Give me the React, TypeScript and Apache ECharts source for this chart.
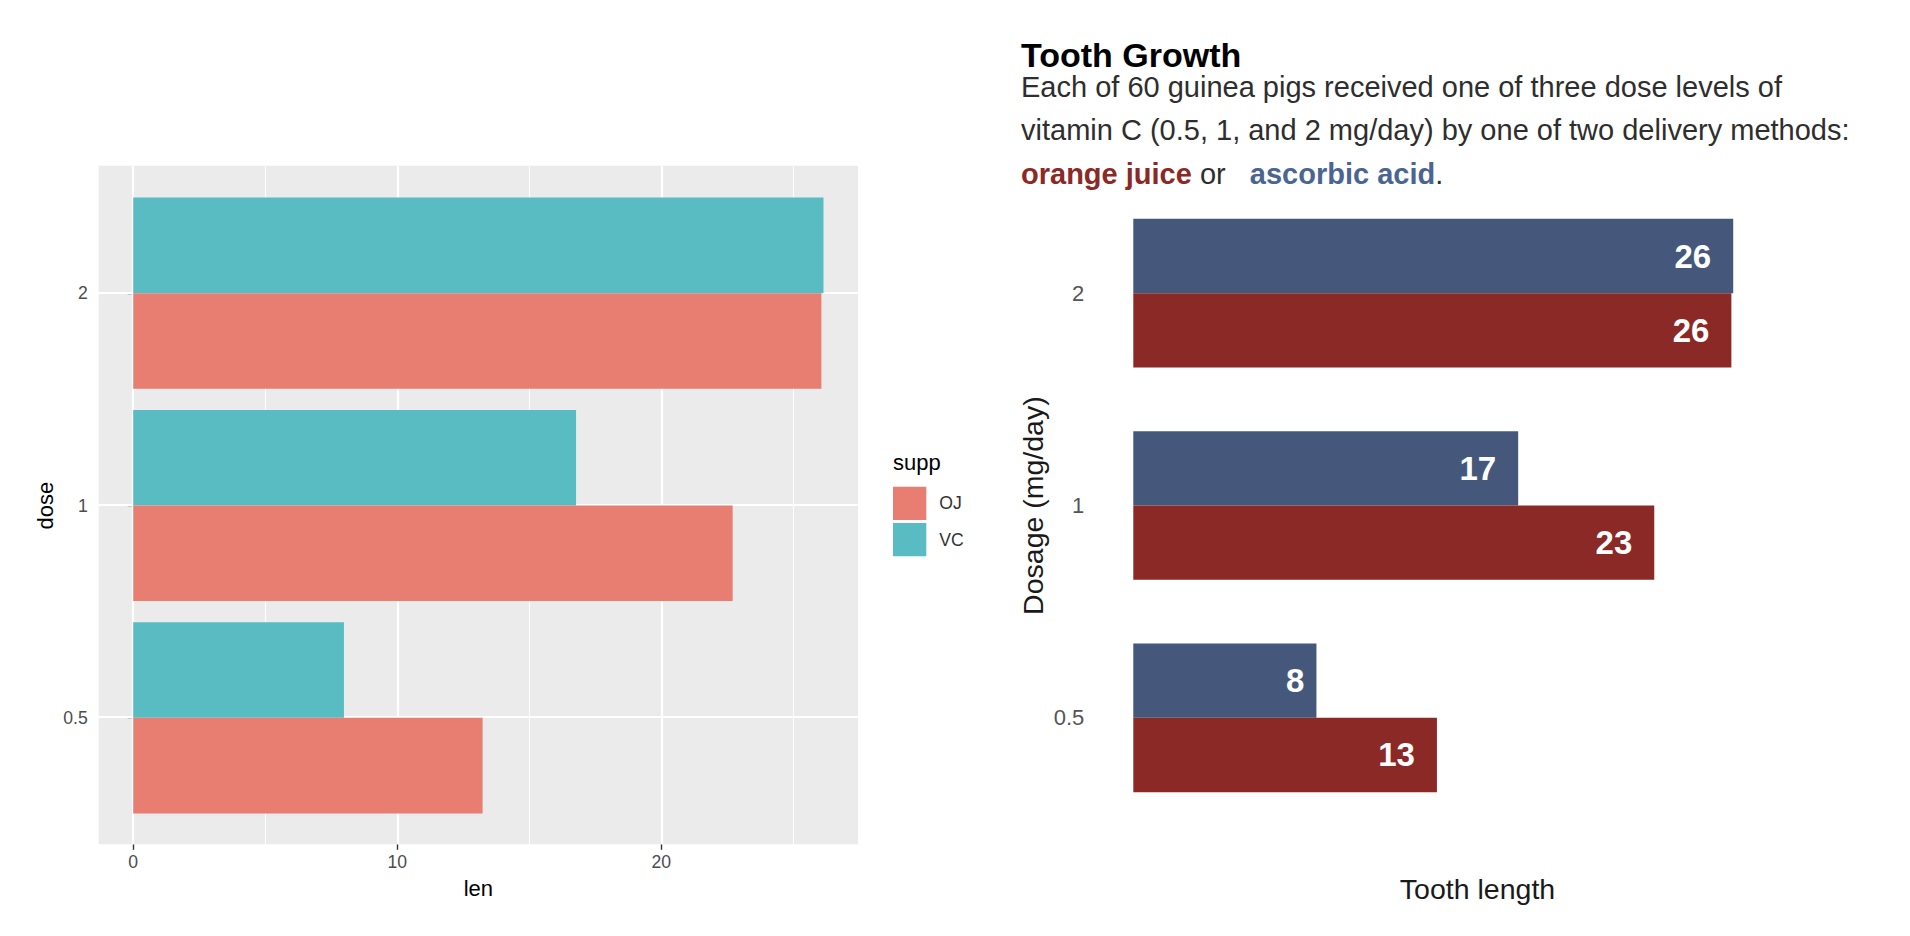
import React, { useEffect, useRef } from "react";
import * as echarts from "echarts";

// ---- data ----
const doseLevels = ["0.5", "1", "2"];
const ojLen = [13.23, 22.7, 26.06];
const vcLen = [7.98, 16.77, 26.14];
const suppNames = ["OJ", "VC"];
const rightSeriesNames = ["orange juice", "ascorbic acid"];
const leftXMajor = [0, 10, 20];
const leftXMinor = [5, 15, 25];
const rightXMax = 30;

const titleText = "Tooth Growth";
const subtitleLine1 = "Each of 60 guinea pigs received one of three dose levels of";
const subtitleLine2 = "vitamin C (0.5, 1, and 2 mg/day) by one of two delivery methods:";

const FONT = "'Liberation Sans', Arial, Helvetica, sans-serif";

export default function App() {
  const ref = useRef<HTMLDivElement>(null);

  useEffect(() => {
    if (!ref.current) return;
    const chart = echarts.init(ref.current, null, { renderer: "svg" });

    const maxLen = Math.max(...ojLen, ...vcLen);
    const expand = 0.05 * maxLen;
    const xMin = -expand;
    const xMax = maxLen + expand;
    const doseIdx = doseLevels.map((_, i) => i + 1);

    const white = "#FFFFFF";
    const gridLineData: any[] = [
      ...leftXMajor.map((v) => ({ xAxis: v, lineStyle: { width: 2.2, color: white, type: "solid" } })),
      ...leftXMinor.map((v) => ({ xAxis: v, lineStyle: { width: 1.1, color: white, type: "solid" } })),
      ...doseIdx.map((v) => ({ yAxis: v, lineStyle: { width: 2.2, color: white, type: "solid" } })),
    ];

    const txt = (
      text: string,
      x: number,
      y: number,
      size: number,
      fill: string,
      opts: any = {}
    ) => ({
      type: "text",
      x,
      y,
      rotation: opts.rotation || 0,
      silent: true,
      style: {
        text,
        fill,
        fontSize: size,
        fontFamily: FONT,
        fontWeight: opts.bold ? "bold" : "normal",
        align: opts.align || "left",
        textAlign: opts.align || "left",
        verticalAlign: "middle",
        textVerticalAlign: "middle",
      },
    });

    const valueLabel = {
      show: true,
      position: "insideRight",
      distance: 22,
      formatter: (p: any) => String(Math.round(p.value)),
      color: "#FFFFFF",
      fontSize: 33,
      fontWeight: "bold",
      fontFamily: FONT,
    };
    // single-digit labels sit a little closer to the bar end
    const withLabels = (arr: number[]) =>
      arr.map((v) => (Math.round(v) < 10 ? { value: v, label: { distance: 12 } } : v));

    const tickStyle = { color: "#333333", width: 1.4 };

    const option: any = {
      animation: false,
      backgroundColor: "#FFFFFF",
      textStyle: { fontFamily: FONT },
      grid: [
        { left: 98.7, top: 165.7, width: 759.3, height: 678.6, show: true, backgroundColor: "#EBEBEB", borderWidth: 0, containLabel: false },
        { left: 98.7, top: 187, width: 759.3, height: 637, containLabel: false },
        { left: 1133.3, top: 187, width: 688.5, height: 637, containLabel: false },
      ],
      xAxis: [
        {
          gridIndex: 0,
          type: "value",
          min: xMin,
          max: xMax,
          axisLine: { show: false },
          axisTick: { show: true, customValues: leftXMajor, length: 5.5, lineStyle: tickStyle },
          axisLabel: { show: true, customValues: leftXMajor, fontSize: 17.6, color: "#4D4D4D", margin: 9, fontFamily: FONT },
          splitLine: { show: false },
        },
        { gridIndex: 1, type: "value", min: xMin, max: xMax, show: false },
        { gridIndex: 2, type: "value", min: 0, max: rightXMax, show: false },
      ],
      yAxis: [
        {
          gridIndex: 0,
          type: "value",
          min: 0.4,
          max: doseLevels.length + 0.6,
          axisLine: { show: false },
          axisTick: { show: true, customValues: doseIdx, length: 5.5, lineStyle: tickStyle },
          axisLabel: { show: false },
          splitLine: { show: false },
        },
        {
          gridIndex: 1,
          type: "category",
          data: doseLevels,
          axisLine: { show: false },
          axisTick: { show: false },
          axisLabel: { fontSize: 17.6, color: "#4D4D4D", margin: 11, fontFamily: FONT },
          splitLine: { show: false },
        },
        {
          gridIndex: 2,
          type: "category",
          data: doseLevels,
          axisLine: { show: false },
          axisTick: { show: false },
          axisLabel: { fontSize: 22, color: "#555555", margin: 49, fontFamily: FONT },
          splitLine: { show: false },
        },
      ],
      legend: {
        data: suppNames,
        orient: "vertical",
        left: 893,
        top: 486.7,
        itemWidth: 33.3,
        itemHeight: 33.3,
        itemGap: 3,
        icon: "rect",
        padding: 0,
        selectedMode: false,
        textStyle: { fontSize: 17.6, color: "#333333", fontFamily: FONT, padding: [0, 0, 0, 8] },
      },
      series: [
        {
          type: "line",
          xAxisIndex: 0,
          yAxisIndex: 0,
          data: [],
          silent: true,
          markLine: {
            silent: true,
            symbol: ["none", "none"],
            label: { show: false },
            emphasis: { disabled: true },
            data: gridLineData,
          },
        },
        {
          name: suppNames[1],
          type: "bar",
          xAxisIndex: 1,
          yAxisIndex: 1,
          data: vcLen,
          barGap: "0%",
          barCategoryGap: "10%",
          z: 10,
          itemStyle: { color: "#58BCC2" },
        },
        {
          name: suppNames[0],
          type: "bar",
          xAxisIndex: 1,
          yAxisIndex: 1,
          data: ojLen,
          barGap: "0%",
          barCategoryGap: "10%",
          z: 10,
          itemStyle: { color: "#E87D72" },
        },
        {
          name: rightSeriesNames[1],
          type: "bar",
          xAxisIndex: 2,
          yAxisIndex: 2,
          data: withLabels(vcLen),
          barGap: "0%",
          barCategoryGap: "30%",
          z: 10,
          itemStyle: { color: "#45587C" },
          label: valueLabel,
        },
        {
          name: rightSeriesNames[0],
          type: "bar",
          xAxisIndex: 2,
          yAxisIndex: 2,
          data: withLabels(ojLen),
          barGap: "0%",
          barCategoryGap: "30%",
          z: 10,
          itemStyle: { color: "#8B2927" },
          label: valueLabel,
        },
      ],
      graphic: [
        txt("dose", 45, 505.6, 22, "#000000", { rotation: Math.PI / 2, align: "center" }),
        txt("len", 478.3, 888, 22, "#000000", { align: "center" }),
        txt("supp", 893, 462, 22, "#000000"),
        txt(titleText, 1021, 55, 34, "#000000", { bold: true }),
        txt(subtitleLine1, 1021, 87, 29, "#2E2E2E"),
        txt(subtitleLine2, 1021, 129.5, 29, "#2E2E2E"),
        {
          type: "text",
          x: 1021,
          y: 173.5,
          silent: true,
          style: {
            text: "{oj|orange juice}{n| or   }{vc|ascorbic acid}{n|.}",
            fontSize: 29,
            fontFamily: FONT,
            fill: "#2E2E2E",
            align: "left",
            textAlign: "left",
            verticalAlign: "middle",
            textVerticalAlign: "middle",
            rich: {
              oj: { fill: "#8B2927", color: "#8B2927", fontWeight: "bold", fontSize: 29, fontFamily: FONT },
              vc: { fill: "#4B6592", color: "#4B6592", fontWeight: "bold", fontSize: 29, fontFamily: FONT },
              n: { fill: "#2E2E2E", color: "#2E2E2E", fontSize: 29, fontFamily: FONT },
            },
          },
        },
        txt("Dosage (mg/day)", 1033, 505.6, 28.5, "#1A1A1A", { rotation: Math.PI / 2, align: "center" }),
        txt("Tooth length", 1477.5, 889, 28.5, "#1A1A1A", { align: "center" }),
      ],
    };

    chart.setOption(option);
    return () => chart.dispose();
  }, []);

  return (
    <div
      ref={ref}
      style={{ position: "absolute", left: 0, top: 0, width: 1910, height: 936 }}
    />
  );
}
